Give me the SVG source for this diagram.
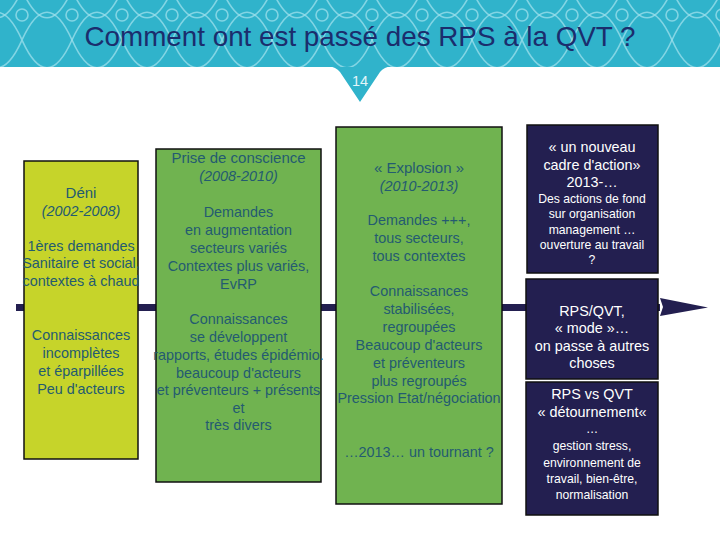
<svg xmlns="http://www.w3.org/2000/svg" width="720" height="540" viewBox="0 0 720 540">
<style>
.t{font-family:"Liberation Sans",Arial,sans-serif;text-anchor:middle;fill:#245b70;font-size:14.4px}
.i{font-style:italic}
.w{fill:#ffffff}
.s{font-size:12.2px}
.box{stroke:#111111;stroke-width:1.5}
.yg{fill:#c6d42a}
.gr{fill:#70b350}
.dk{fill:#231f50}
.wave{fill:none;stroke:#9fe0ec;stroke-width:1.6;opacity:0.75}
</style>
<defs>
<pattern id="wp" patternUnits="userSpaceOnUse" x="22" y="0" width="100" height="70">
<path class="wave" d="M0,40 C16.7,3 33.3,3 50,40 C66.7,77 83.3,77 100,40"/>
<path class="wave" d="M0,40 C16.7,77 33.3,77 50,40 C66.7,3 83.3,3 100,40"/>
<path class="wave" d="M0,-10 C16.7,-47 33.3,-47 50,-10 C66.7,27 83.3,27 100,-10"/>
<path class="wave" d="M0,-10 C16.7,27 33.3,27 50,-10 C66.7,-47 83.3,-47 100,-10"/>
<circle class="wave" cx="0" cy="15" r="6"/>
<circle class="wave" cx="50" cy="15" r="6"/>
<circle class="wave" cx="100" cy="15" r="6"/>
</pattern>
</defs>
<rect width="720" height="540" fill="#ffffff"/>
<g id="header">
<rect x="0" y="0" width="720" height="67" fill="#30b3cb"/>
<path d="M328,66 Q336,67 340,72 L360,102 L380,72 Q384,67 392,66 Z" fill="#30b3cb"/>
<rect x="0" y="0" width="720" height="67" fill="url(#wp)"/>
<text x="360" y="46" style="font-family:'Liberation Sans',Arial,sans-serif;font-size:27.8px;fill:#1b2d6d;text-anchor:middle">Comment ont est passé des RPS à la QVT ?</text>
<text x="360" y="86" style="font-family:'Liberation Sans',Arial,sans-serif;font-size:14.5px;fill:#e4f6fa;text-anchor:middle">14</text>
</g>
<g id="connectors">
<rect x="16" y="304" width="644" height="7" fill="#231f50"/>
<path d="M660,298 L708,307.5 L660,316 L663,307 Z" fill="#231f50"/>
</g>
<g id="deni">
<rect class="box yg" x="24" y="161" width="114" height="298"/>
<text class="t" x="81" y="198" style="font-size:15px">Déni</text>
<text class="t i" x="81" y="216">(2002-2008)</text>
<text class="t" x="81" y="251">1ères demandes</text>
<text class="t" x="81" y="268">Sanitaire et social,</text>
<text class="t" x="81" y="286">contextes à chaud</text>
<text class="t" x="81" y="340">Connaissances</text>
<text class="t" x="81" y="358">incomplètes</text>
<text class="t" x="81" y="376">et éparpillées</text>
<text class="t" x="81" y="394">Peu d'acteurs</text>
</g>
<g id="prise">
<rect class="box gr" x="156" y="149" width="165" height="333"/>
<text class="t" x="238.5" y="163" style="font-size:15px">Prise de conscience</text>
<text class="t i" x="238.5" y="181">(2008-2010)</text>
<text class="t" x="238.5" y="217">Demandes</text>
<text class="t" x="238.5" y="235">en augmentation</text>
<text class="t" x="238.5" y="253">secteurs variés</text>
<text class="t" x="238.5" y="271">Contextes plus variés,</text>
<text class="t" x="238.5" y="289">EvRP</text>
<text class="t" x="238.5" y="324">Connaissances</text>
<text class="t" x="238.5" y="342">se développent</text>
<text class="t" x="238.5" y="360">rapports, études épidémio.</text>
<text class="t" x="238.5" y="378">beaucoup d'acteurs</text>
<text class="t" x="238.5" y="395">et préventeurs + présents</text>
<text class="t" x="238.5" y="413">et</text>
<text class="t" x="238.5" y="430">très divers</text>
</g>
<g id="explosion">
<rect class="box gr" x="336" y="127" width="166" height="377"/>
<text class="t" x="419" y="173" style="font-size:15px">« Explosion »</text>
<text class="t i" x="419" y="191">(2010-2013)</text>
<text class="t" x="419" y="225">Demandes +++,</text>
<text class="t" x="419" y="243">tous secteurs,</text>
<text class="t" x="419" y="261">tous contextes</text>
<text class="t" x="419" y="296">Connaissances</text>
<text class="t" x="419" y="314">stabilisées,</text>
<text class="t" x="419" y="332">regroupées</text>
<text class="t" x="419" y="350">Beaucoup d'acteurs</text>
<text class="t" x="419" y="368">et préventeurs</text>
<text class="t" x="419" y="386">plus regroupés</text>
<text class="t" x="419" y="403">Pression Etat/négociation</text>
<text class="t" x="419" y="457">…2013… un tournant ?</text>
</g>
<g id="nouveau">
<rect class="box dk" x="527" y="125" width="131" height="148"/>
<text class="t w" x="592" y="152">« un nouveau</text>
<text class="t w" x="592" y="170">cadre d'action»</text>
<text class="t w" x="592" y="187">2013-…</text>
<text class="t w s" x="592" y="203">Des actions de fond</text>
<text class="t w s" x="592" y="218">sur organisation</text>
<text class="t w s" x="592" y="234">management …</text>
<text class="t w s" x="592" y="249">ouverture au travail</text>
<text class="t w s" x="592" y="264">?</text>
</g>
<g id="mode">
<rect class="box dk" x="526" y="279" width="132" height="100"/>
<text class="t w" x="592" y="316">RPS/QVT,</text>
<text class="t w" x="592" y="333">« mode »…</text>
<text class="t w" x="592" y="351">on passe à autres</text>
<text class="t w" x="592" y="368">choses</text>
</g>
<g id="detournement">
<rect class="box dk" x="526" y="382" width="132" height="133"/>
<text class="t w" x="592" y="399">RPS vs QVT</text>
<text class="t w" x="592" y="417">« détournement«</text>
<text class="t w s" x="592" y="433">…</text>
<text class="t w s" x="592" y="450">gestion stress,</text>
<text class="t w s" x="592" y="467">environnement de</text>
<text class="t w s" x="592" y="483">travail, bien-être,</text>
<text class="t w s" x="592" y="499">normalisation</text>
</g>
</svg>
